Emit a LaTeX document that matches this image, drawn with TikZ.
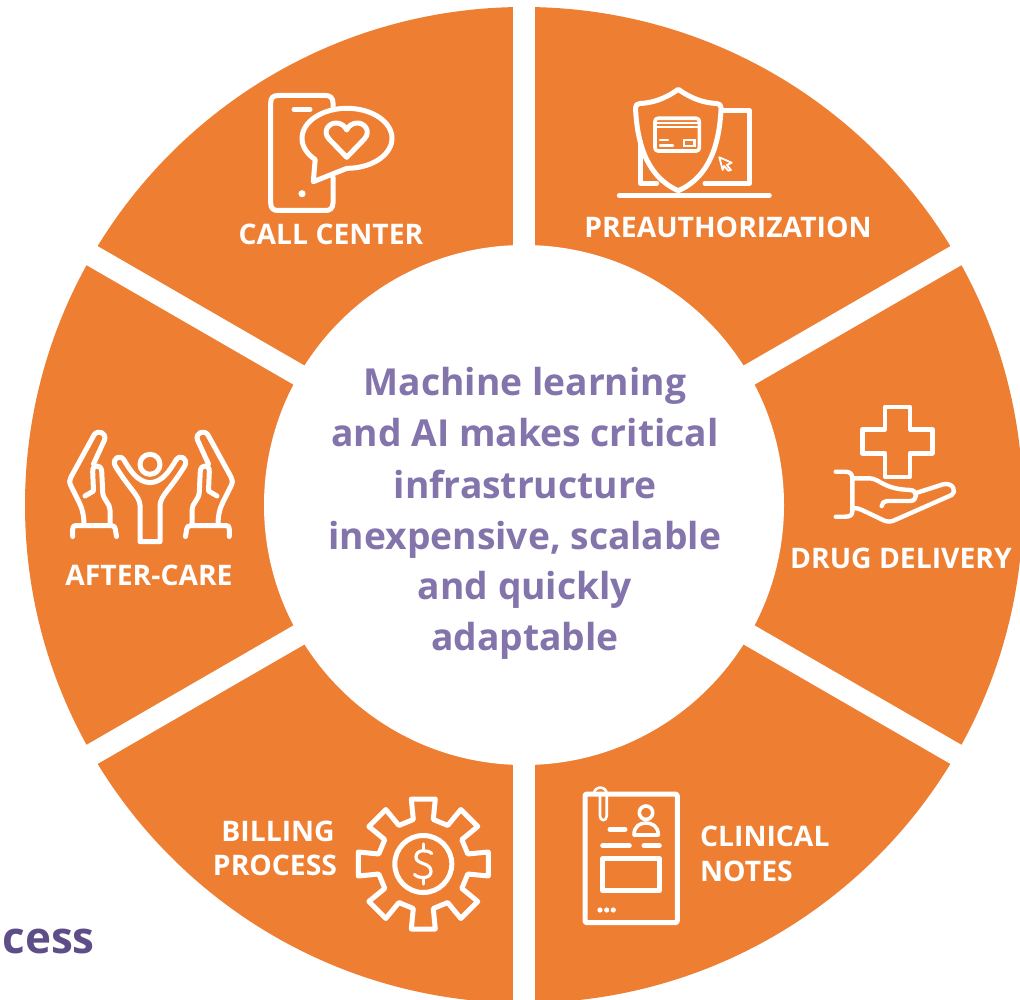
\documentclass[tikz,border=0pt]{standalone}
\usepackage{fontspec}
\usetikzlibrary{calc}
\setmainfont{Open Sans}
\definecolor{ringorange}{HTML}{EE7E32}
\definecolor{midpurple}{HTML}{8374AB}
\definecolor{darkpurple}{HTML}{5E4E87}
\tikzset{
  icon/.style={draw=white,line width=5pt,line cap=round,line join=round,fill=none},
  thinicon/.style={icon,line width=3.6pt},
  seglabel/.style={text=white,font=\bfseries\fontsize{28.3}{28.3}\selectfont,anchor=base,inner sep=0pt},
  seglabelleft/.style={seglabel,anchor=base west},
  centerline/.style={text=midpurple,font=\bfseries\fontsize{37.2}{37.2}\selectfont,anchor=base,inner sep=0pt},
}
\newcommand{\handicon}{%
  \draw[icon] (72.7,536.5) -- (72.7,529) .. controls (72.7,526.5) and (74,525.5) .. (76,525.5) -- (111,525.5) .. controls (114,525.5) and (115,527) .. (115.3,529) -- (116.5,536.5);
  \draw[icon] (84,525) .. controls (84,515) and (82,508) .. (79,502) -- (71,486) .. controls (69,482) and (69.5,480) .. (71,477) -- (94,435) .. controls (98,429) and (107,433) .. (104.5,440) -- (93.5,464);
  \draw[icon] (110,524) -- (110,510) .. controls (110,503) and (103,500) .. (102.7,492) -- (101.7,471) .. controls (101,464) and (92,464) .. (92.7,472) -- (93.5,491) -- (85,496);
}
\begin{document}
\begin{tikzpicture}[x=1pt,y=-1pt]
\useasboundingbox (0,0) rectangle (1020,1000);
\begin{scope}
\clip (0,0) rectangle (1020,1000);
\fill[ringorange] (524,505) ellipse[x radius=499,y radius=498];
\coordinate (cc) at (524,505);
\draw[white,line width=22pt] (524,-10) -- (524,1020);
\draw[white,line width=22pt] ($(cc)+(-520,300.2)$) -- ($(cc)+(520,-300.2)$);
\draw[white,line width=22pt] ($(cc)+(-520,-300.2)$) -- ($(cc)+(520,300.2)$);
\fill[white] (524,505) circle[radius=260];
\end{scope}

% centre text
\node[centerline] (c1) at (525,395.5) {Machine learning};
\node[centerline] (c2) at (525,446.5) {and AI makes critical};
\node[centerline] (c3) at (525,498) {infrastructure};
\node[centerline] (c4) at (525,549) {inexpensive, scalable};
\node[centerline] (c5) at (525,599.5) {and quickly};
\node[centerline] (c6) at (525,650.5) {adaptable};
\node[text=darkpurple,font=\bfseries\fontsize{44}{44}\selectfont,anchor=base east,inner sep=0pt] (cess) at (95,953) {cess};

% labels
\node[seglabel] (l1) at (331,245) {CALL CENTER};
\node[seglabel] (l2) at (728,238) {PREAUTHORIZATION};
\node[seglabel] (l3) at (901,568) {DRUG DELIVERY};
\node[seglabelleft] (l4a) at (700,846) {CLINICAL};
\node[seglabelleft] (l4b) at (700,881) {NOTES};
\node[seglabel] (l5a) at (278,841) {BILLING};
\node[seglabel] (l5b) at (275,875) {PROCESS};
\node[seglabel] (l6) at (149,585) {AFTER-CARE};

% phone icon
\draw[icon] (333,108) -- (333,103) .. controls (333,98) and (330,95.5) .. (326,95.5) -- (278,95.5) .. controls (273,95.5) and (270.7,98) .. (270.7,103) -- (270.7,203) .. controls (270.7,208) and (273,210.5) .. (278,210.5) -- (326,210.5) .. controls (330,210.5) and (333,208) .. (333,203) -- (333,177);
\draw[icon] plot[domain=90:-225,samples=60,smooth] ({347+45*cos(\x)},{138.3+30*sin(\x)}) -- (313.3,181.7) -- cycle;
\draw[icon] (346.7,157.3) -- (329,139) .. controls (322,131) and (329,123) .. (336,123) .. controls (341,123) and (345,126) .. (346.7,130) .. controls (348.4,126) and (352.4,123) .. (357.4,123) .. controls (364.4,123) and (371.4,131) .. (364.4,139) -- cycle;
\draw[icon] (294,109.3) -- (310,109.3);
\fill[white] (302,193.7) circle[radius=3.6];

% shield / laptop icon
\draw[icon] (678.3,89.3) .. controls (665,99) and (652,103) .. (640,103.5) .. controls (637,103.7) and (635.5,105) .. (635.5,108) .. controls (637,140) and (645,176) .. (678.3,190.7) .. controls (711.6,176) and (719.6,140) .. (721.1,108) .. controls (721.1,105) and (719.6,103.7) .. (716.6,103.5) .. controls (704.6,103) and (691.6,99) .. (678.3,89.3) -- cycle;
\draw[icon] (724,110.7) -- (749.3,110.7) -- (749.3,183.3) -- (705,183.3);
\draw[icon] (640.7,142) -- (640.7,183.3) -- (656.7,183.3);
\draw[icon] (619.3,195.3) -- (769.3,195.3);
\draw[thinicon,rounded corners=3pt] (655,118.3) rectangle (699.3,151);
\draw[line width=2pt,white] (655,123) -- (699.3,123) (655,127.5) -- (699.3,127.5);
\draw[line width=2.4pt,white,line cap=round] (660,140.3) -- (668,140.3) (660,145.7) -- (673,145.7);
\draw[line width=2.4pt,white] (684,140) rectangle (694.3,146);
\draw[line width=1.8pt,white,line join=round] (719.3,157.3) -- (731.7,162.7) -- (726.7,165) -- (731,170) -- (728.3,170.7) -- (724,166) -- (722.7,170) -- cycle;

% hand + cross icon
\draw[icon,line width=4.4pt] (885,406.7) -- (910,406.7) -- (910,429.3) -- (932.3,429.3) -- (932.3,453.3) -- (910,453.3) -- (910,476.7) -- (885,476.7) -- (885,453.3) -- (862.3,453.3) -- (862.3,429.3) -- (885,429.3) -- cycle;
\draw[icon,line width=4.4pt] (835.7,471.7) -- (845,471.7) .. controls (850,471.7) and (852.3,474) .. (852.3,478.3) -- (852.3,511.7) .. controls (852.3,515) and (850,516.7) .. (845,516.7) -- (835.7,516.7);
\draw[icon,line width=4.4pt] (852.3,478.3) -- (870,478.3) .. controls (880,479) and (883,489) .. (910,490) .. controls (918,490) and (918,501) .. (910,501) -- (887,501) .. controls (884,501) and (882,503) .. (881.7,506);
\draw[icon,line width=4.4pt] (915,493.3) -- (943.3,484.3) .. controls (953,482) and (957,492) .. (951.7,495) -- (895,520) .. controls (891,522) and (888,522) .. (884,520.5) -- (862,510) .. controls (859,508.5) and (856,508) .. (852.3,508);

% clinical notes icon
\draw[icon,rounded corners=2pt] (585,794) rectangle (677.3,922.7);
\draw[line width=2.6pt,white,line cap=round] (594,794) .. controls (594,785.5) and (606.7,785.5) .. (606.7,794) -- (606.7,816) .. controls (606.7,821.5) and (600,821.5) .. (600,816) -- (600,794);
\draw[thinicon] (646,812.7) circle[radius=6.7];
\draw[thinicon] (634,835) .. controls (634,826) and (640,823) .. (646,823) .. controls (652,823) and (658.3,826) .. (658.3,835) -- cycle;
\draw[icon] (610,829.3) -- (625,829.3);
\draw[icon] (602.7,845.7) -- (629.3,845.7);
\draw[icon] (644,845.7) -- (659.3,845.7);
\draw[icon] (602.7,858.7) rectangle (659.3,890.7);
\foreach \px in {600,606.7,613.3} \fill[white] (\px,910) circle[radius=2.6];

% gear icon
\draw[icon] ({423.3+44.5*cos(0)+10*sin(0)},{864+44.5*sin(0)-10*cos(0)})
  \foreach \a in {0,45,...,315} {
    -- ({423.3+65*cos(\a)+12*sin(\a)},{864+65*sin(\a)-12*cos(\a)})
    -- ({423.3+65*cos(\a)-12*sin(\a)},{864+65*sin(\a)+12*cos(\a)})
    -- ({423.3+44.5*cos(\a)-10*sin(\a)},{864+44.5*sin(\a)+10*cos(\a)})
    -- ({423.3+44.5*cos(\a+45)+10*sin(\a+45)},{864+44.5*sin(\a+45)-10*cos(\a+45)})
  } -- cycle;
\draw[icon] (423.3,864) circle[radius=28.5];
\draw[line width=3.2pt,white,line cap=round] (431.7,853.5) .. controls (428,849.5) and (416,849) .. (416,857) .. controls (416,865) and (431,862) .. (431,871.5) .. controls (431,879) and (419,879) .. (414.5,874.5);
\draw[line width=3.2pt,white,line cap=round] (423.3,844) -- (423.3,849) (423.3,879) -- (423.3,884);

% after-care icon
\draw[icon] (150,464.3) circle[radius=10];
\draw[icon] (140,541.7) -- (140,505) .. controls (139,495) and (130,490) .. (115,465.5) .. controls (112,458) and (120,454) .. (124,460) .. controls (130,470) and (137,482) .. (150,482.7) .. controls (163,482) and (170,470) .. (176,460) .. controls (180,454) and (188,458) .. (185,465.5) .. controls (170,490) and (161,495) .. (160,505) -- (160,541.7) -- cycle;
\handicon
\begin{scope}[xshift=302pt,xscale=-1]
\handicon
\end{scope}
\end{tikzpicture}
\end{document}
